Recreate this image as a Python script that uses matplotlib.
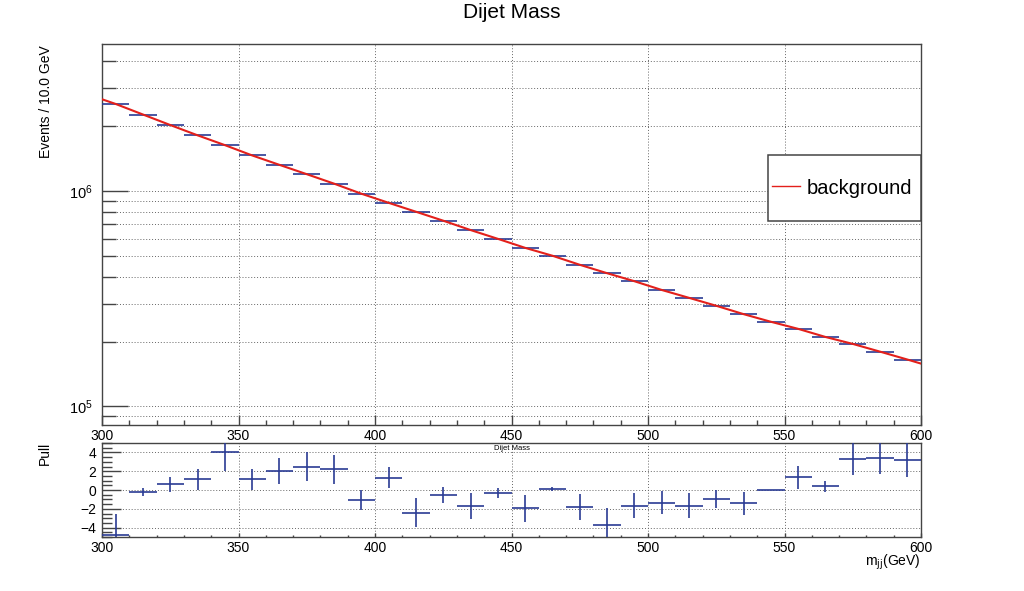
import matplotlib
matplotlib.use("Agg")
import matplotlib.pyplot as plt
from matplotlib.patches import Rectangle
from matplotlib.lines import Line2D
from matplotlib.ticker import LogLocator, NullFormatter, MultipleLocator, FixedLocator, FuncFormatter
import numpy as np

plt.rcParams['font.family'] = ['Liberation Sans', 'DejaVu Sans']

# ---------------- data ----------------
bin_centers = [305, 315, 325, 335, 345, 355, 365, 375, 385, 395,
               405, 415, 425, 435, 445, 455, 465, 475, 485, 495,
               505, 515, 525, 535, 545, 555, 565, 575, 585, 595]
bin_half_width = 5

events = [2.53e6, 2.26e6, 2.02e6, 1.81e6, 1.63e6, 1.46e6, 1.32e6, 1.195e6, 1.08e6, 9.7e5,
          8.8e5, 8.0e5, 7.27e5, 6.58e5, 5.99e5, 5.44e5, 5.0e5, 4.54e5, 4.15e5, 3.81e5,
          3.47e5, 3.19e5, 2.93e5, 2.68e5, 2.47e5, 2.29e5, 2.10e5, 1.95e5, 1.795e5, 1.65e5]

fit_x = [300, 305, 315, 325, 335, 345, 355, 365, 375, 385, 395,
         405, 415, 425, 435, 445, 455, 465, 475, 485, 495,
         505, 515, 525, 535, 545, 555, 565, 575, 585, 595, 600]
fit_y = [2.66e6, 2.53e6, 2.26e6, 2.02e6, 1.81e6, 1.63e6, 1.46e6, 1.32e6, 1.195e6, 1.08e6, 9.7e5,
         8.8e5, 8.0e5, 7.27e5, 6.58e5, 5.99e5, 5.44e5, 5.0e5, 4.54e5, 4.15e5, 3.81e5,
         3.47e5, 3.19e5, 2.93e5, 2.68e5, 2.47e5, 2.29e5, 2.10e5, 1.95e5, 1.795e5, 1.65e5, 1.58e5]

pull = [-4.78, -0.21, 0.60, 1.13, 4.07, 1.13, 2.02, 2.48, 2.19, -1.06,
        1.31, -2.41, -0.53, -1.73, -0.28, -1.95, 0.07, -1.84, -3.72, -1.66,
        -1.35, -1.66, -0.99, -1.42, 0.0, 1.35, 0.39, 3.33, 3.40, 3.19]
pull_err = [2.2, 0.45, 0.76, 1.1, 2.05, 1.1, 1.4, 1.57, 1.5, 1.06,
            1.15, 1.55, 0.8, 1.36, 0.53, 1.42, 0.2, 1.4, 1.85, 1.33,
            1.22, 1.36, 0.97, 1.24, 0.05, 1.2, 0.62, 1.77, 1.75, 1.8]

x_ticks = [300, 350, 400, 450, 500, 550, 600]
pull_ticks = [-4, -2, 0, 2, 4]

# ---------------- styles ----------------
W, H = 1024, 591
data_color = '#2a3b94'
fit_color = '#e3201b'
frame_color = '#444444'
grid_kw = dict(color='#666666', linestyle=(0, (1, 2)), linewidth=0.7)
tick_fs = 10

fig = plt.figure(figsize=(W / 100, H / 100), dpi=100)

def fx(px):
    return px / W

def fy(py):
    return 1 - py / H

ax_l, ax_r = 102, 921
top_t, top_b = 44, 425
bot_t, bot_b = 443, 537

ax1 = fig.add_axes([fx(ax_l), fy(top_b), fx(ax_r - ax_l), (top_b - top_t) / H])
ax2 = fig.add_axes([fx(ax_l), fy(bot_b), fx(ax_r - ax_l), (bot_b - bot_t) / H])

for ax in (ax1, ax2):
    for s in ax.spines.values():
        s.set_color(frame_color)
        s.set_linewidth(1.0)

# ---- top panel ----
ax1.set_yscale('log')
ax1.set_xlim(300, 600)
ax1.set_ylim(8.2e4, 4.8e6)
ax1.errorbar(bin_centers, events, xerr=bin_half_width, fmt='none',
             ecolor=data_color, elinewidth=1.2, capsize=0, zorder=3)
ax1.plot(fit_x, fit_y, color=fit_color, lw=1.5, zorder=4)

ax1.xaxis.set_major_locator(FixedLocator(x_ticks))
ax1.xaxis.set_minor_locator(MultipleLocator(10))
ax1.yaxis.set_major_locator(LogLocator(base=10))
ax1.yaxis.set_minor_locator(LogLocator(base=10, subs=np.arange(2, 10)))
ax1.yaxis.set_minor_formatter(NullFormatter())
ax1.tick_params(axis='y', which='major', direction='in', length=19, width=1.0,
                color=frame_color, labelsize=tick_fs + 0.5, pad=7, right=False)
ax1.tick_params(axis='y', which='minor', direction='in', length=10, width=1.0,
                color=frame_color, right=False)
ax1.tick_params(axis='x', which='major', direction='in', length=7, width=1.0,
                color=frame_color, labelsize=tick_fs, pad=3, top=False)
ax1.tick_params(axis='x', which='minor', direction='in', length=3.5, width=1.0,
                color=frame_color, top=False)
ax1.grid(True, axis='y', which='both', **grid_kw)
ax1.grid(True, axis='x', which='major', **grid_kw)
ax1.set_axisbelow(True)

# ---- bottom panel ----
ax2.set_xlim(300, 600)
ax2.set_ylim(-5, 5)
ax2.errorbar(bin_centers, pull, xerr=bin_half_width, yerr=pull_err, fmt='none',
             ecolor=data_color, elinewidth=1.2, capsize=0, zorder=3)
ax2.xaxis.set_major_locator(FixedLocator(x_ticks))
ax2.xaxis.set_minor_locator(MultipleLocator(10))
ax2.yaxis.set_major_locator(FixedLocator(pull_ticks))
ax2.yaxis.set_minor_locator(MultipleLocator(0.5))
ax2.tick_params(axis='y', which='major', direction='in', length=14, width=1.0,
                color=frame_color, labelsize=tick_fs, pad=4, right=False)
ax2.tick_params(axis='y', which='minor', direction='in', length=7, width=1.0,
                color=frame_color, right=False)
ax2.tick_params(axis='x', which='major', direction='in', length=3, width=1.0,
                color=frame_color, labelsize=tick_fs, pad=3, top=False)
ax2.tick_params(axis='x', which='minor', direction='in', length=1.5, width=1.0,
                color=frame_color, top=False)
ax2.grid(True, axis='both', which='major', **grid_kw)
ax2.set_axisbelow(True)
ax2.yaxis.set_major_formatter(FuncFormatter(
    lambda v, p: ('\u2212%d' % abs(v)) if v < 0 else '%d' % v))

# ---- texts ----
fig.text(0.5, fy(13), 'Dijet Mass', ha='center', va='center', fontsize=15)
fig.text(fx(46), fy(45), 'Events / 10.0 GeV', rotation=90, ha='center', va='top', fontsize=10)
fig.text(fx(45), fy(442), 'Pull', rotation=90, ha='center', va='top', fontsize=10)
fig.text(fx(921), fy(566), r'm$_{\mathrm{jj}}$(GeV)', ha='right', va='baseline', fontsize=10)
fig.text(fx(512), fy(448), 'Dijet Mass', ha='center', va='center', fontsize=5.5)

# ---- legend ----
leg_l, leg_r, leg_t, leg_b = 768, 921, 155, 221
rect = Rectangle((fx(leg_l), fy(leg_b)), fx(leg_r - leg_l), (leg_b - leg_t) / H,
                 transform=fig.transFigure, facecolor='white', edgecolor=frame_color,
                 linewidth=1.1, zorder=5)
fig.add_artist(rect)
handle = Line2D([], [], color=fit_color, lw=1.0)
fig.legend([handle], ['background'], loc='center left',
           bbox_to_anchor=(fx(772), fy((leg_t + leg_b) / 2)),
           bbox_transform=fig.transFigure, frameon=False, fontsize=14.5,
           handlelength=1.4, handletextpad=0.3, borderpad=0, borderaxespad=0)

fig.savefig('out.png', dpi=100)
